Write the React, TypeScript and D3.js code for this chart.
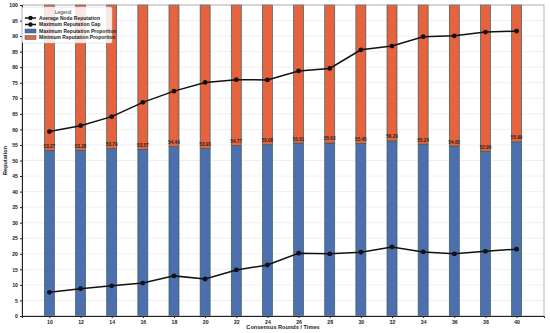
import { useEffect, useRef } from 'react';
import * as d3 from 'd3';

const rounds = [10, 12, 14, 16, 18, 20, 22, 24, 26, 28, 30, 32, 34, 36, 38, 40];
const maxProportion = [53.27, 53.28, 53.79, 53.57, 54.49, 53.93, 54.77, 55.08, 55.61, 55.63, 55.45, 56.29, 55.24, 54.65, 52.99, 55.99];
const avgReputation = [59.3, 61.2, 64.1, 68.7, 72.3, 75.1, 76.0, 75.9, 78.8, 79.6, 85.6, 86.8, 89.8, 90.1, 91.3, 91.6];
const maxGap = [7.6, 8.8, 9.7, 10.6, 12.9, 11.9, 14.8, 16.4, 20.2, 20.0, 20.5, 22.2, 20.6, 20.0, 20.8, 21.5];
const yTicks = d3.range(0, 101, 5);

const W = 550, H = 333, ML = 22, MR = 6, MT = 5, MB = 17;
const BLUE = '#4d6fad', ORANGE = '#e5633f', EDGE = '#35605a';
const FONT = '"Liberation Sans", Arial, sans-serif';

export default function App() {
  const svgRef = useRef<SVGSVGElement>(null);

  useEffect(() => {
    const svg = d3.select(svgRef.current);
    svg.selectAll('*').remove();
    svg.attr('font-family', FONT);

    const x = d3.scalePoint<number>().domain(rounds).range([ML, W - MR]).padding(0.88);
    const y = d3.scaleLinear().domain([0, 100]).range([H - MB, MT]);
    const bw = 10;

    // grid
    svg.append('g')
      .selectAll('line')
      .data(yTicks)
      .join('line')
      .attr('x1', ML).attr('x2', W - MR)
      .attr('y1', (d) => y(d)).attr('y2', (d) => y(d))
      .attr('stroke', '#e6e6e6').attr('stroke-width', 0.6);

    // bars: max proportion (bottom) + min proportion (top)
    const bars = svg.append('g');
    bars.selectAll('.lo')
      .data(rounds)
      .join('rect')
      .attr('x', (d) => x(d)! - bw / 2)
      .attr('width', bw)
      .attr('y', (_, i) => y(maxProportion[i]))
      .attr('height', (_, i) => y(0) - y(maxProportion[i]))
      .attr('fill', BLUE).attr('stroke', EDGE).attr('stroke-width', 0.7);
    bars.selectAll('.hi')
      .data(rounds)
      .join('rect')
      .attr('x', (d) => x(d)! - bw / 2)
      .attr('width', bw)
      .attr('y', y(100))
      .attr('height', (_, i) => y(maxProportion[i]) - y(100))
      .attr('fill', ORANGE).attr('stroke', EDGE).attr('stroke-width', 0.7);

    // bar value labels
    svg.append('g')
      .selectAll('text')
      .data(rounds)
      .join('text')
      .attr('x', (d) => x(d)!)
      .attr('y', (_, i) => y(maxProportion[i]) - 2.5)
      .attr('text-anchor', 'middle')
      .attr('font-size', 4.6).attr('font-weight', 700).attr('fill', '#222')
      .text((_, i) => maxProportion[i].toFixed(2));

    // lines
    const line = d3.line<number>().x((_, i) => x(rounds[i])!).y((d) => y(d));
    [avgReputation, maxGap].forEach((series) => {
      svg.append('path')
        .attr('d', line(series))
        .attr('fill', 'none').attr('stroke', '#111').attr('stroke-width', 1.5);
      svg.append('g')
        .selectAll('circle')
        .data(series)
        .join('circle')
        .attr('cx', (_, i) => x(rounds[i])!)
        .attr('cy', (d) => y(d))
        .attr('r', 2.4).attr('fill', '#111');
    });

    // frame
    svg.append('rect')
      .attr('x', ML).attr('y', MT)
      .attr('width', W - MR - ML).attr('height', H - MB - MT)
      .attr('fill', 'none').attr('stroke', '#999').attr('stroke-width', 0.7);

    // y axis
    svg.append('g')
      .attr('transform', `translate(${ML},0)`)
      .call(d3.axisLeft(y).tickValues(yTicks).tickSize(2).tickPadding(2))
      .call((g) => {
        g.select('.domain').attr('stroke', '#222');
        g.selectAll('line').attr('stroke', '#222');
        g.selectAll('text').attr('font-size', 5.2).attr('font-weight', 700).attr('fill', '#222').attr('font-family', FONT);
      });

    // x axis
    svg.append('g')
      .attr('transform', `translate(0,${H - MB})`)
      .call(d3.axisBottom(x).tickSize(2).tickPadding(2))
      .call((g) => {
        g.select('.domain').attr('stroke', '#222');
        g.selectAll('line').attr('stroke', '#222');
        g.selectAll('text').attr('font-size', 5.2).attr('font-weight', 700).attr('fill', '#222').attr('font-family', FONT);
      });

    svg.append('text')
      .attr('x', (ML + W - MR) / 2).attr('y', H - 4)
      .attr('text-anchor', 'middle')
      .attr('font-size', 5.6).attr('font-weight', 700).attr('fill', '#222')
      .text('Consensus Rounds / Times');
    svg.append('text')
      .attr('transform', `translate(6.5,${(MT + H - MB) / 2}) rotate(-90)`)
      .attr('text-anchor', 'middle')
      .attr('font-size', 5.6).attr('font-weight', 700).attr('fill', '#222')
      .text('Reputation');

    // legend
    const lg = svg.append('g').attr('transform', 'translate(22,7)');
    lg.append('rect')
      .attr('width', 90).attr('height', 36).attr('rx', 1.5)
      .attr('fill', 'rgba(255,255,255,0.85)').attr('stroke', '#ccc').attr('stroke-width', 0.5);
    lg.append('text')
      .attr('x', 41).attr('y', 6.5).attr('text-anchor', 'middle')
      .attr('font-size', 5).attr('fill', '#333').text('Legend');
    const items = [
      { label: 'Average Node Reputation', kind: 'line', color: '#111' },
      { label: 'Maximum Reputation Gap', kind: 'line', color: '#111' },
      { label: 'Maximum Reputation Proportion', kind: 'patch', color: BLUE },
      { label: 'Minimum Reputation Proportion', kind: 'patch', color: ORANGE },
    ];
    items.forEach((it, i) => {
      const yy = 11 + i * 6.5;
      if (it.kind === 'line') {
        lg.append('line').attr('x1', 3).attr('x2', 14).attr('y1', yy).attr('y2', yy)
          .attr('stroke', it.color).attr('stroke-width', 1.5);
        lg.append('circle').attr('cx', 8.5).attr('cy', yy).attr('r', 2.2).attr('fill', it.color);
      } else {
        lg.append('rect').attr('x', 3).attr('y', yy - 2).attr('width', 11).attr('height', 4)
          .attr('fill', it.color).attr('stroke', EDGE).attr('stroke-width', 0.5);
      }
      lg.append('text')
        .attr('x', 17).attr('y', yy + 1.8)
        .attr('font-size', 5).attr('font-weight', 700).attr('fill', '#222')
        .text(it.label);
    });
  }, []);

  return (
    <svg
      ref={svgRef}
      width={W}
      height={H}
      style={{ position: 'absolute', left: 0, top: 0, background: '#fff' }}
    />
  );
}
